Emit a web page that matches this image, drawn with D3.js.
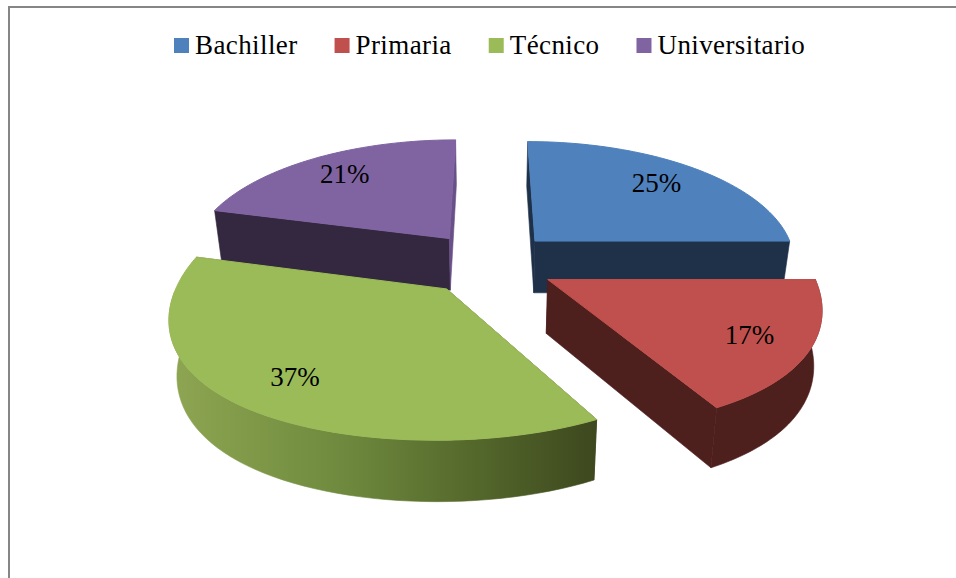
<!DOCTYPE html>
<html>
<head>
<meta charset="utf-8">
<script src="https://cdn.jsdelivr.net/npm/d3@7"></script>
<style>
  html, body { margin: 0; padding: 0; background: #fff; }
  svg { display: block; }
  text { font-family: "Liberation Serif", serif; fill: #000; }
</style>
</head>
<body>
<div id="chart"></div>
<script>
// chart values
const categories = ["Bachiller", "Primaria", "Técnico", "Universitario"];
const values = [25, 17, 37, 21];
const labels = ["25%", "17%", "37%", "21%"];
const colors = ["#4f81bd", "#c0504d", "#9bbb59", "#8064a2"];
const wallColors = ["#1e3149", "#4d1f1d", "#3f4a1f", "#33283f"];
const endWallColors = ["#1e3149", "#4d1f1d", "#3f4a1f", "#6a5088"];
const labelRadii = [0.76, 0.79, 0.77, 0.77];

const width = 956,
      height = 578;

// settings of the fake 3d view
const explode = 0.255,    // how far the slices are pulled out
      persp = 0.15,       // front of the pie is bigger than the back
      bottomShrink = 0.975;

let svg = d3.select("#chart")
    .append("svg")
    .attr("width", width)
    .attr("height", height)
    .attr("viewBox", [0, 0, width, height]);

// frame, only top and left are in the picture
svg.append("path")
    .attr("d", `M9,${height}V7H${width}`)
    .attr("fill", "none")
    .attr("stroke", "#868686")
    .attr("stroke-width", 2);

// gradient for the round wall of the green slice
let grad = svg.append("defs").append("linearGradient")
    .attr("id", "greenWall")
    .attr("gradientUnits", "userSpaceOnUse")
    .attr("x1", 171).attr("x2", 597)
    .attr("y1", 0).attr("y2", 0);
grad.selectAll("stop")
    .data([[0, "#8ea652"], [0.4, "#6f8a3e"], [0.7, "#55692c"], [1, "#3d481e"]])
    .join("stop")
    .attr("offset", d => d[0])
    .attr("stop-color", d => d[1]);

// scales from the unit pie to the page
let x = d3.scaleLinear().domain([-1, 1]).range([227, 751]);
let y = d3.scaleLinear().domain([-1, 1]).range([138, 388]);
let depth = d3.scaleLinear().domain([0, 1]).range([53, 60]);

let pie = d3.pie().value(d => d).sort(null);
let arcs = pie(values);

// top face point, x grows faster toward the front than y does
function topPoint(wx, wy) {
    let front = Math.max(wy, 0),
        px = 1 + 0.153 * wy + 0.084 * front * front,
        py = 1 + persp * wy;
    return [x(wx * px), y(wy * py)];
}

// same point at the bottom of the slab
function bottomPoint(wx, wy) {
    let t = topPoint(wx, wy);
    return [x(0) + (t[0] - x(0)) * bottomShrink, t[1] + depth(wy)];
}

let line = d3.line();

let slices = arcs.map((a, i) => {
    let mid = (a.startAngle + a.endAngle) / 2;
    let ox = explode * Math.sin(mid),
        oy = -explode * Math.cos(mid);
    let angles = d3.range(0, 61).map(k => a.startAngle + (a.endAngle - a.startAngle) * k / 60);
    let rim = angles.map(ang => [ox + Math.sin(ang), oy - Math.cos(ang)]);
    // only the front half of the round wall can be seen
    let front = angles.filter(ang => Math.cos(ang) < 0)
        .map(ang => [ox + Math.sin(ang), oy - Math.cos(ang)]);
    return {i, mid, ox, oy, rim, front};
});

function labelPoint(d) {
    let r = labelRadii[d.i];
    return topPoint(d.ox + r * Math.sin(d.mid), d.oy - r * Math.cos(d.mid));
}

// draw back to front
let order = [3, 2, 0, 1];
let groups = svg.selectAll(".slice")
    .data(order.map(i => slices[i]))
    .join("g")
    .attr("class", "slice");

// flat walls
groups.append("path")
    .attr("fill", d => wallColors[d.i])
    .attr("stroke", d => wallColors[d.i])
    .attr("stroke-width", 0.6)
    .attr("d", d => {
        let e = d.rim[0];
        return line([topPoint(d.ox, d.oy), topPoint(e[0], e[1]), bottomPoint(e[0], e[1]), bottomPoint(d.ox, d.oy)]) + "Z";
    });
groups.append("path")
    .attr("fill", d => endWallColors[d.i])
    .attr("stroke", d => endWallColors[d.i])
    .attr("stroke-width", 0.6)
    .attr("d", d => {
        let e = d.rim[60];
        return line([topPoint(d.ox, d.oy), topPoint(e[0], e[1]), bottomPoint(e[0], e[1]), bottomPoint(d.ox, d.oy)]) + "Z";
    });

// round wall
groups.filter(d => d.front.length > 1)
    .append("path")
    .attr("fill", d => d.i === 2 ? "url(#greenWall)" : wallColors[d.i])
    .attr("stroke", d => d.i === 2 ? "url(#greenWall)" : wallColors[d.i])
    .attr("stroke-width", 0.6)
    .attr("d", d => {
        let tops = d.front.map(r => topPoint(r[0], r[1]));
        let bottoms = d.front.map(r => bottomPoint(r[0], r[1])).reverse();
        return line(tops.concat(bottoms)) + "Z";
    });

// top face, the stroke covers the wall edges behind it
groups.append("path")
    .attr("fill", d => colors[d.i])
    .attr("stroke", d => colors[d.i])
    .attr("stroke-width", 1)
    .attr("d", d => {
        let pts = d.rim.map(r => topPoint(r[0], r[1]));
        pts.unshift(topPoint(d.ox, d.oy));
        return line(pts) + "Z";
    });

// percent labels
svg.selectAll(".label")
    .data(slices)
    .join("text")
    .attr("class", "label")
    .text(d => labels[d.i])
    .attr("font-size", 27)
    .attr("text-anchor", "middle")
    .attr("dominant-baseline", "central")
    .attr("x", d => labelPoint(d)[0])
    .attr("y", d => labelPoint(d)[1]);

// legend, laid out from the text widths
let legend = svg.append("g");
let cursor = 174;
categories.forEach((c, i) => {
    legend.append("rect")
        .attr("x", cursor)
        .attr("y", 38)
        .attr("width", 15)
        .attr("height", 15)
        .attr("fill", colors[i]);
    let t = legend.append("text")
        .text(c)
        .attr("x", cursor + 21)
        .attr("y", 54)
        .attr("font-size", 27)
        .attr("letter-spacing", 0.4);
    cursor += 21 + t.node().getComputedTextLength() + 37;
});
</script>
</body>
</html>
